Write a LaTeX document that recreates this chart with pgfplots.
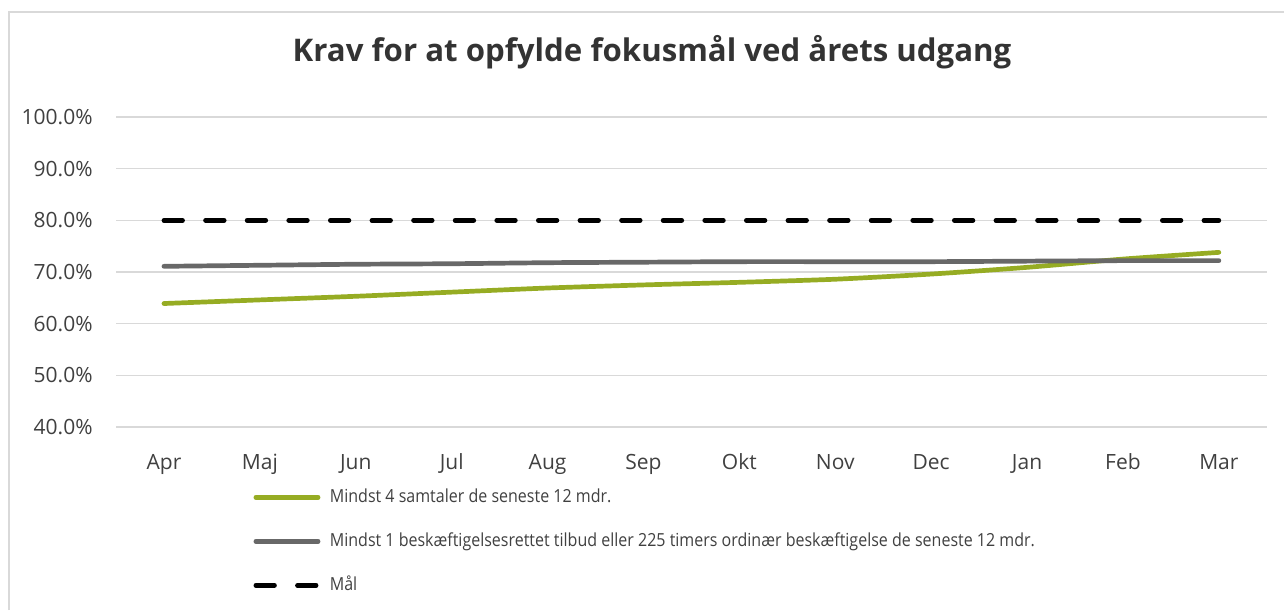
\documentclass[border=0pt]{standalone}
\usepackage{pgfplots}
\pgfplotsset{compat=1.18}
\usepackage{fontspec}
\setmainfont{Open Sans}
\definecolor{cgreen}{RGB}{150,172,35}
\definecolor{cgray}{RGB}{104,104,104}
\definecolor{cgrid}{RGB}{217,217,217}
\definecolor{ctick}{RGB}{64,64,64}
\definecolor{ctitle}{RGB}{51,51,51}
\newcommand{\legtxt}[1]{\scalebox{0.89}[1]{#1}}
\begin{document}
\begin{tikzpicture}
\useasboundingbox (0,0) rectangle (642pt,305pt);
\draw[cgrid, line width=1pt] (4.25pt,0pt) -- (4.25pt,299pt) -- (642pt,299pt);
\node[font=\fontsize{15.6}{19}\selectfont\bfseries, text=ctitle] at (326pt,279pt) {Krav for at opfylde fokusmål ved årets udgang};
\begin{axis}[
  at={(58pt,91.5pt)}, anchor=south west,
  scale only axis, width=575.4pt, height=155pt,
  xmin=-0.5, xmax=11.5, ymin=40, ymax=100,
  axis line style={draw=none},
  xtick={0,...,11},
  xticklabels={Apr,Maj,Jun,Jul,Aug,Sep,Okt,Nov,Dec,Jan,Feb,Mar},
  ytick={40,50,...,100},
  major tick length=0pt,
  ymajorgrids, grid style={cgrid, line width=0.65pt},
  /pgf/number format/assume math mode=true,
  yticklabel={\pgfmathprintnumber[fixed,fixed zerofill,precision=1]{\tick}\%},
  ticklabel style={font=\fontsize{10.5}{12}\selectfont, text=ctick},
  yticklabel style={inner sep=0pt, xshift=-11.5pt},
  xticklabel style={inner sep=0pt, text height=7.5pt, text depth=2pt, yshift=-13.5pt},
  legend cell align=left,
  legend style={at={(axis cs:0.93,28.2)}, anchor=north west, draw=none, fill=none,
    inner sep=0pt, row sep=13pt,
    nodes={inner sep=0pt, text height=7pt, text depth=2pt, font=\fontsize{9}{10}\selectfont, text=ctick}},
  legend image code/.code={\draw[#1] (1.2pt,0pt) -- (32.3pt,0pt); \path (37pt,0pt);},
  clip=false,
]
\addplot[cgreen, line width=2.35pt, line cap=round, smooth, tension=0.4] coordinates {
(0,63.9) (1,64.6) (2,65.3) (3,66.1) (4,66.9) (5,67.5) (6,68.0) (7,68.6) (8,69.6) (9,70.9) (10,72.5) (11,73.8)};
\addlegendentry{\legtxt{Mindst 4 samtaler de seneste 12 mdr.}}
\addplot[cgray, line width=2.35pt, line cap=round, smooth, tension=0.4] coordinates {
(0,71.1) (1,71.3) (2,71.5) (3,71.6) (4,71.8) (5,71.9) (6,72.0) (7,72.0) (8,72.0) (9,72.1) (10,72.2) (11,72.2)};
\addlegendentry{\legtxt{Mindst 1 beskæftigelsesrettet tilbud eller 225 timers ordinær beskæftigelse de seneste 12 mdr.}}
\addplot[black, line width=2.35pt, line cap=round, dash pattern=on 9.3pt off 11.5pt] coordinates {
(0,80) (1,80) (2,80) (3,80) (4,80) (5,80) (6,80) (7,80) (8,80) (9,80) (10,80) (11,80)};
\addlegendentry{\legtxt{Mål}}
\end{axis}
\end{tikzpicture}
\end{document}
